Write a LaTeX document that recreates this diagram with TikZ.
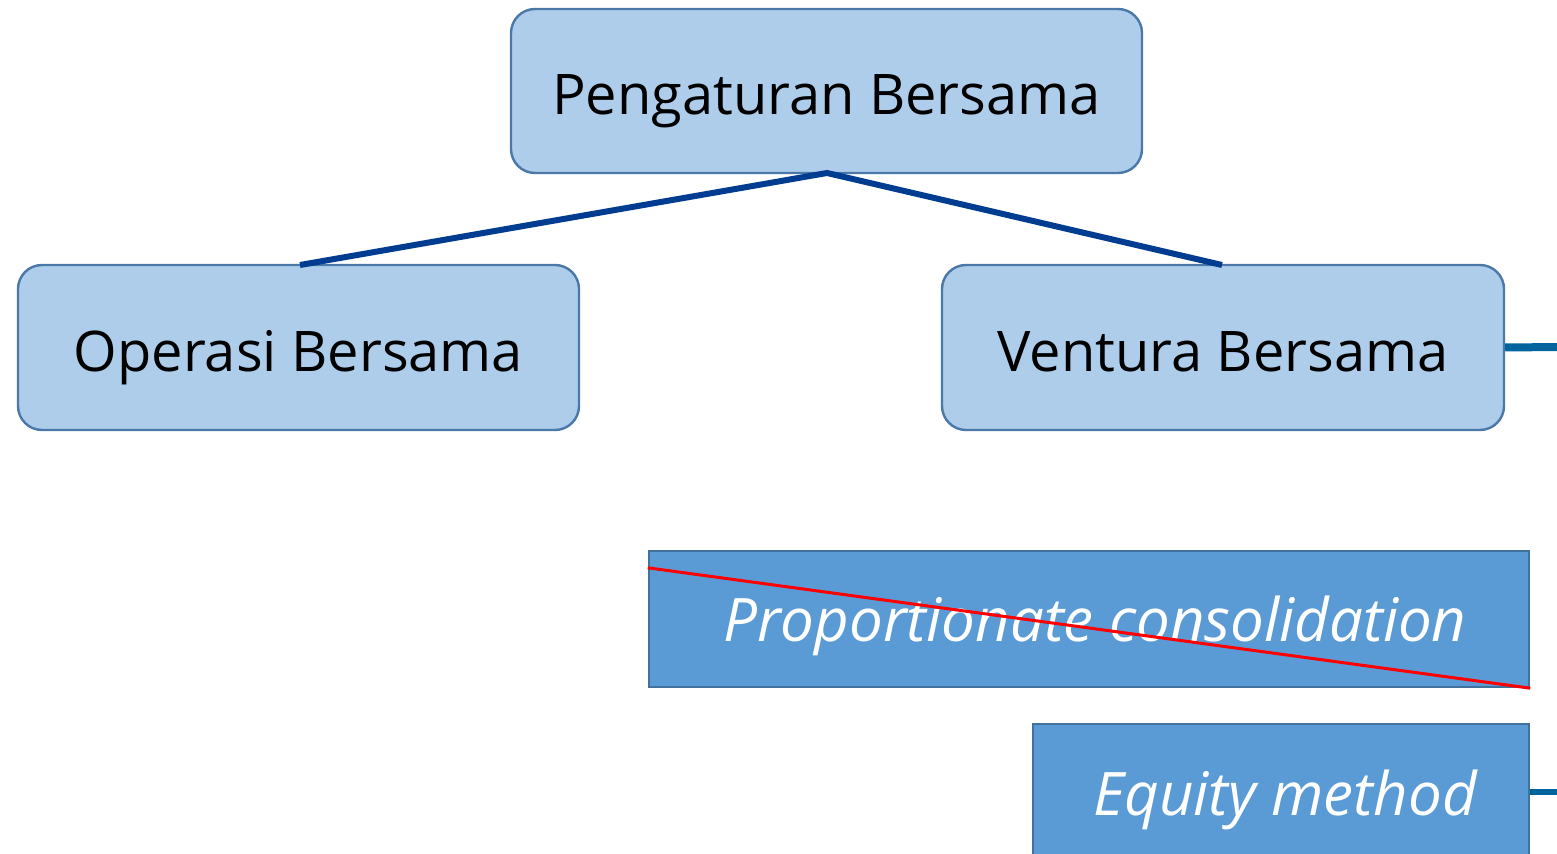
\documentclass[tikz,border=0pt]{standalone}
\usepackage{fontspec}
\setmainfont{Open Sans}
\definecolor{lightbox}{HTML}{AECDEA}
\definecolor{lightedge}{HTML}{4A78A8}
\definecolor{darkbox}{HTML}{5B9BD5}
\definecolor{darkedge}{HTML}{41719C}
\definecolor{treeline}{HTML}{003C8F}
\definecolor{sideline}{HTML}{00659E}
\tikzset{
  lightnode/.style={draw=lightedge, fill=lightbox, line width=1.2pt, rounded corners=12pt,
    text=black, font=\fontsize{28}{34}\selectfont, inner sep=0pt,
    text height=24pt, text depth=0pt},
  darknode/.style={draw=darkedge, fill=darkbox, line width=1.2pt,
    text=white, font=\fontsize{30}{36}\selectfont\itshape, inner sep=0pt,
    text height=22pt, text depth=0pt},
  tree/.style={draw=treeline, line width=3pt},
  side/.style={draw=sideline, line width=4pt},
}
\begin{document}
\begin{tikzpicture}[x=0.5pt, y=-0.5pt]
\useasboundingbox (0,0) rectangle (1557,854);
% top level
\node[lightnode, minimum width=315.5pt, minimum height=82pt] (top) at (826.5,91) {Pengaturan Bersama};
% second level
\node[lightnode, minimum width=280.5pt, minimum height=82.5pt] (op) at (298.5,347.5) {Operasi Bersama};
\node[lightnode, minimum width=281pt, minimum height=82.5pt] (vb) at (1223,347.5) {Ventura Bersama};
% accounting treatments
\node[darknode, minimum width=440pt, minimum height=68pt] (pc) at (1089,619) {\hspace*{6pt}Proportionate consolidation};
\node[darknode, minimum width=248pt, minimum height=75pt, anchor=north] (eq) at (1281,723) {};
\node[text=white, font=\fontsize{30}{36}\selectfont\itshape, inner sep=0pt, anchor=base] (eqt) at (1285,815) {Equity method};
% struck-through treatment
\draw[red, line width=1.5pt] (pc.north west) ++(0,18) coordinate (s1) -- (pc.south east);
% tree connectors
\coordinate (tb) at (827,173);
\coordinate (opt) at (300,265);
\coordinate (vbt) at (1222,265);
\draw[tree] (opt) -- (tb) -- (vbt);
% stubs leading off to the right
\coordinate (r1) at (1560,347);
\coordinate (r2) at (1560,792);
\draw[side] (vb.east) -- (r1);
\draw[side, line width=3pt] (eq.east |- r2) -- (r2);
\end{tikzpicture}
\end{document}
